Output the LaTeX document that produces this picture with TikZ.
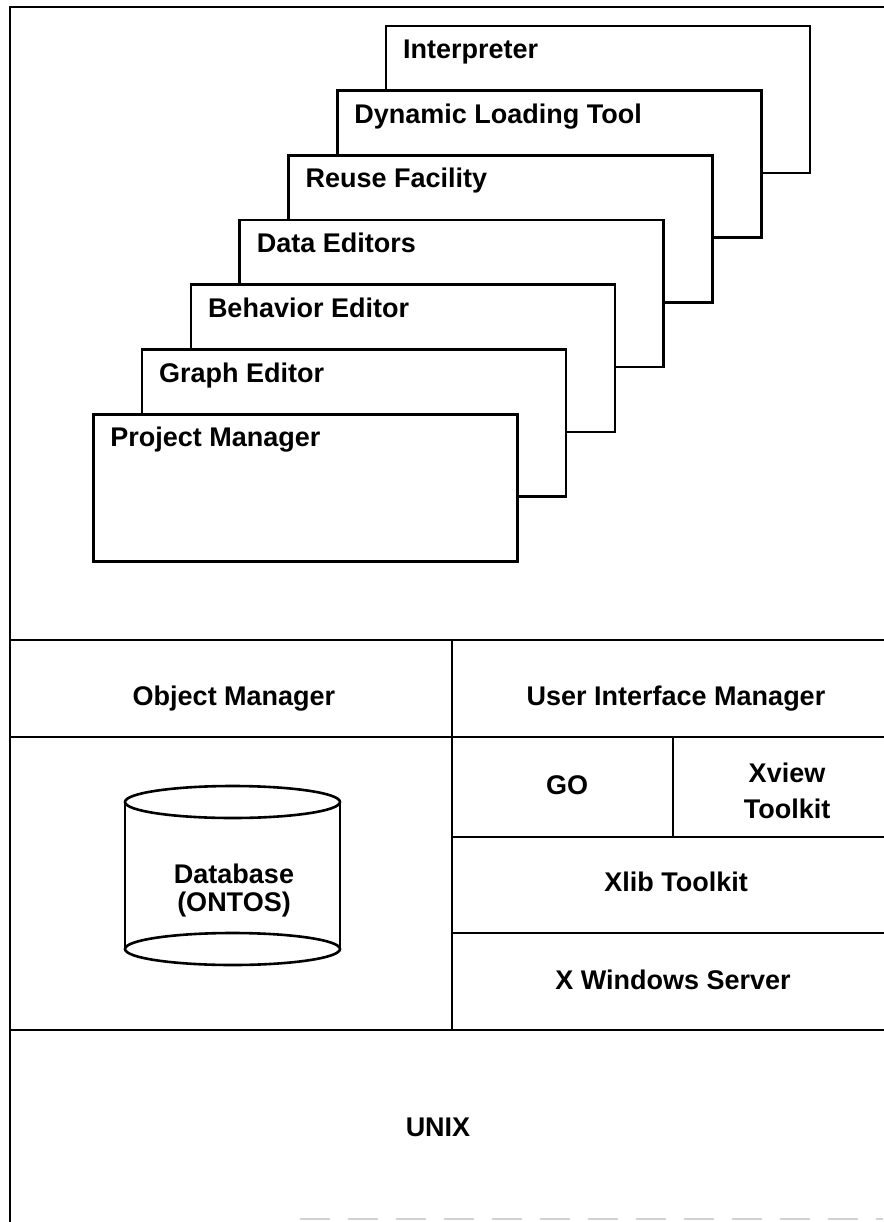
\documentclass[tikz,border=0pt]{standalone}
\usepackage{fontspec}
\setmainfont{Liberation Sans}
\begin{document}
\begin{tikzpicture}[x=1pt,y=-1pt,
  frame/.style={line width=2.6pt, line cap=rect},
  win/.style={draw, fill=white, line width=2.6pt, rectangle, minimum width=424pt,
    minimum height=147pt, anchor=north west, inner sep=0pt, outer sep=0pt},
  lbl/.style={font=\fontsize{27}{28}\selectfont\bfseries, inner sep=0pt},
]
\useasboundingbox (0,0) rectangle (883,1222);
\fill[white] (0,0) rectangle (883,1222);

% outer frame and layer lines
\draw[frame] (883,7) -- (10,7) -- (10,1222);
\draw[frame] (10,640) -- (883,640);
\draw[frame] (10,737) -- (883,737);
\draw[frame] (10,1030) -- (883,1030);
\draw[frame] (452,640) -- (452,1030);
\draw[frame] (452,837) -- (883,837);
\draw[frame] (452,933) -- (883,933);
\draw[frame] (673,737) -- (673,837);
\draw[gray!35, line width=1.5pt, dash pattern=on 30pt off 18pt] (300,1219) -- (883,1219);

% stacked tool windows (back to front)
\foreach \i/\txt in {0/Interpreter, 1/Dynamic Loading Tool, 2/Reuse Facility,
    3/Data Editors, 4/Behavior Editor, 5/Graph Editor, 6/Project Manager} {
  \node[win] (b\i) at ({386-48.8*\i},{26+64.7*\i}) {};
  \node[lbl, anchor=base west] (t\i) at ([xshift=17pt,yshift=-32.5pt]b\i.north west) {\txt};
}

% database cylinder
\draw[frame] (125,802) -- (125,949) (340,802) -- (340,949);
\draw[frame, fill=white] (232.5,802) ellipse [x radius=107.5pt, y radius=16pt];
\draw[frame] (232.5,949) ellipse [x radius=107.5pt, y radius=16pt];
\node[lbl, align=center] (db) at (234,891) {Database\\(ONTOS)};

% layer labels
\node[lbl, anchor=base] (om) at (234,705) {Object Manager};
\node[lbl, anchor=base] (uim) at (676,705) {User Interface Manager};
\node[lbl, anchor=base] (go) at (567,794) {GO};
\node[lbl, align=center, font=\fontsize{27}{36}\selectfont\bfseries] (xv) at (787,791) {Xview\\Toolkit};
\node[lbl, anchor=base] (xlib) at (676,891) {Xlib Toolkit};
\node[lbl, anchor=base] (xws) at (673,989) {X Windows Server};
\node[lbl, anchor=base] (unix) at (438,1136) {UNIX};
\end{tikzpicture}
\end{document}
